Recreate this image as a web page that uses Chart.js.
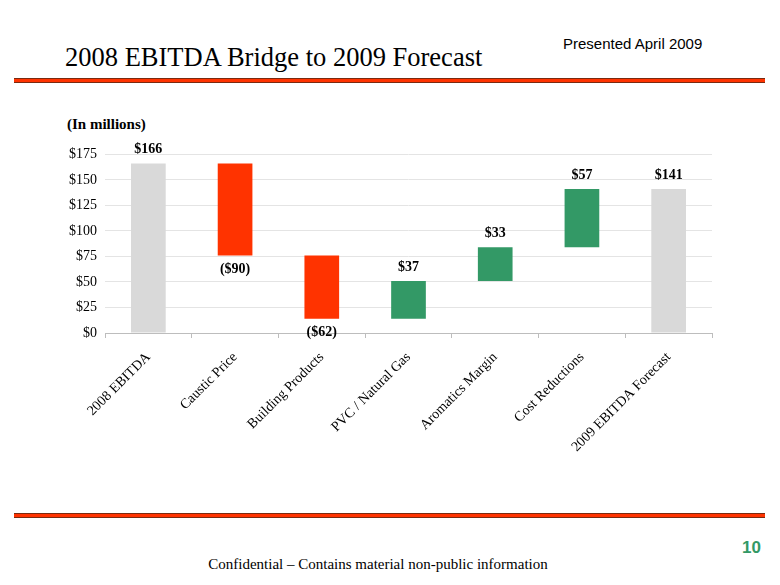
<!DOCTYPE html>
<html>
<head>
<meta charset="utf-8">
<script src="https://cdn.jsdelivr.net/npm/chart.js@4"></script>
<style>
  body { margin: 0; background: #fff; }
  #page { position: relative; width: 780px; height: 585px; overflow: hidden; }
  .rule { position: absolute; left: 14px; width: 751px; height: 3px; background: #ff3300;
          border-top: 1px solid #7a2a10; border-bottom: 1px solid #7a2a10; }
  #title { position: absolute; left: 65px; top: 42px; font: 26.5px "Liberation Serif", serif; color: #000; }
  #presented { position: absolute; left: 563px; top: 35px; font: 15px "Liberation Sans", sans-serif; color: #000; }
  #units { position: absolute; left: 67px; top: 116px; font: bold 15px "Liberation Serif", serif; }
  #footer { position: absolute; left: 0; width: 756px; top: 556px; text-align: center; font: 15px "Liberation Serif", serif; }
  #pageno { position: absolute; left: 742px; top: 538px; font: bold 17px "Liberation Sans", sans-serif; color: #339966; }
  #wrap { position: absolute; left: 40px; top: 138px; width: 680px; height: 340px; }
</style>
</head>
<body>
<div id="page">
  <div id="title">2008 EBITDA Bridge to 2009 Forecast</div>
  <div id="presented">Presented April 2009</div>
  <div class="rule" style="top:78px"></div>
  <div id="units">(In millions)</div>
  <div id="wrap"><canvas id="bridge"></canvas></div>
  <div class="rule" style="top:513px"></div>
  <div id="pageno">10</div>
  <div id="footer">Confidential – Contains material non-public information</div>
</div>
<script>
const categories = ['2008 EBITDA', 'Caustic Price', 'Building Products', 'PVC / Natural Gas',
                    'Aromatics Margin', 'Cost Reductions', '2009 EBITDA Forecast'];
const barLow  = [0, 76, 14, 14, 51, 84, 0];
const barHigh = [166, 166, 76, 51, 84, 141, 141];
const valueLabels = ['$166', '($90)', '($62)', '$37', '$33', '$57', '$141'];
const labelBelow = [false, true, true, false, false, false, false];
const barColors = ['#d9d9d9', '#ff3300', '#ff3300', '#339966', '#339966', '#339966', '#d9d9d9'];
const yTicks = [0, 25, 50, 75, 100, 125, 150, 175];

const valueLabelPlugin = {
    id: 'valueLabels',
    afterDatasetsDraw(chart) {
        const ctx = chart.ctx;
        const meta = chart.getDatasetMeta(0);
        ctx.save();
        ctx.font = 'bold 14px "Liberation Serif", serif';
        ctx.fillStyle = '#000';
        ctx.textAlign = 'center';
        meta.data.forEach((bar, i) => {
            const top = Math.min(bar.y, bar.base);
            const bottom = Math.max(bar.y, bar.base);
            if (labelBelow[i]) {
                ctx.textBaseline = 'top';
                ctx.fillText(valueLabels[i], bar.x, bottom + 7);
            } else {
                ctx.textBaseline = 'bottom';
                ctx.fillText(valueLabels[i], bar.x, top - 7);
            }
        });
        ctx.restore();
    }
};

new Chart(document.getElementById('bridge'), {
    type: 'bar',
    data: {
        labels: categories,
        datasets: [{
            data: barLow.map((lo, i) => [lo, barHigh[i]]),
            backgroundColor: barColors,
            borderWidth: 0,
            barPercentage: 0.4,
            categoryPercentage: 1.0
        }]
    },
    options: {
        responsive: true,
        maintainAspectRatio: false,
        animation: false,
        layout: { padding: { top: 3, right: 8, left: 0, bottom: 0 } },
        plugins: {
            legend: { display: false },
            tooltip: { enabled: false }
        },
        scales: {
            y: {
                min: 0,
                max: 175,
                afterFit: axis => { axis.width = 65; },
                afterBuildTicks: axis => { axis.ticks = yTicks.map(v => ({ value: v })); },
                border: { display: false },
                grid: {
                    color: '#e4e4e4',
                    drawTicks: false
                },
                ticks: {
                    padding: 8,
                    color: '#000',
                    font: { size: 14, family: '"Liberation Serif", serif' },
                    callback: v => '$' + v
                }
            },
            x: {
                afterFit: axis => { axis.height = 145; },
                border: { display: true, color: '#bdbdbd', width: 1 },
                grid: {
                    offset: true,
                    drawOnChartArea: false,
                    drawTicks: true,
                    tickLength: 5,
                    color: '#bdbdbd'
                },
                ticks: {
                    maxRotation: 45,
                    minRotation: 45,
                    autoSkip: false,
                    padding: 11,
                    color: '#000',
                    font: { size: 14, family: '"Liberation Serif", serif' }
                }
            }
        }
    },
    plugins: [valueLabelPlugin]
});
</script>
</body>
</html>
